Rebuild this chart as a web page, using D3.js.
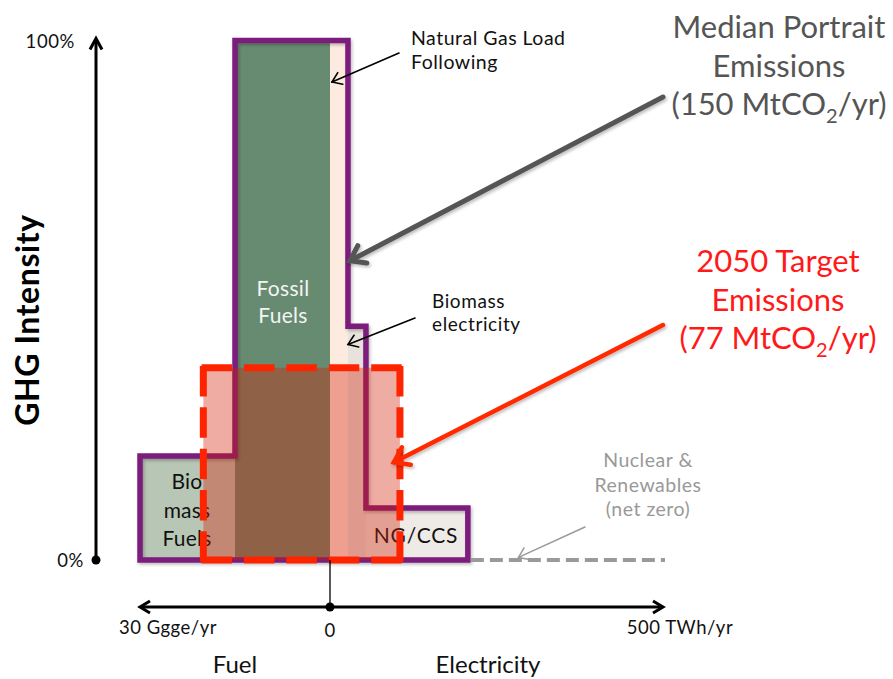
<!DOCTYPE html>
<html>
<head>
<meta charset="utf-8">
<script src="https://cdn.jsdelivr.net/npm/d3@7/dist/d3.min.js"></script>
<style>
  html, body { margin: 0; padding: 0; background: #fff; }
  svg { display: block; font-family: Lato, "Open Sans", sans-serif; }
</style>
</head>
<body>
<svg id="chart" width="893" height="679"></svg>
<script>
// ---------------- data ----------------
const fuelMax = 30;          // Ggge/yr
const elecMax = 500;         // TWh/yr
const fuelNames = ["Biomass Fuels", "Fossil Fuels"];          // listed from axis end toward 0
const fuelAmounts = [15, 15];                                 // Ggge/yr
const fuelIntensity = [20, 100];                              // % GHG intensity
const elecNames = ["Natural Gas Load Following", "Biomass electricity", "NG/CCS"];
const elecAmounts = [27, 27, 153];                            // TWh/yr
const elecIntensity = [100, 45, 10];                          // %
const targetFuel = 20, targetElec = 105, targetIntensity = 37;
const yTicks = [0, 100];
const yTickLabels = ["0%", "100%"];
const xEndLabels = ["30 Ggge/yr", "0", "500 TWh/yr"];

// ---------------- scales ----------------
const svg = d3.select("#chart");
const xFuel = d3.scaleLinear().domain([0, fuelMax]).range([330, 140]);
const xElec = d3.scaleLinear().domain([0, elecMax]).range([330, 663]);
const y = d3.scaleLinear().domain([0, 100]).range([560, 40.5]);
const axisY = 607, yAxisX = 96;

const fuelColors = ["#b8c7b5", "#678b70"];
const elecColors = ["#fdebe0", "#e8e2dd", "#eeebe6"];

// build segments in pixel order (left to right)
const segs = [];
let cum = fuelMax;
fuelAmounts.forEach((a, i) => {
  segs.push({name: fuelNames[i], x0: xFuel(cum), x1: xFuel(cum - a), v: fuelIntensity[i], color: fuelColors[i]});
  cum -= a;
});
cum = 0;
elecAmounts.forEach((a, i) => {
  segs.push({name: elecNames[i], x0: xElec(cum), x1: xElec(cum + a), v: elecIntensity[i], color: elecColors[i]});
  cum += a;
});
const elecEnd = cum;

const defs = svg.append("defs");
const f = defs.append("filter").attr("id", "shadow").attr("x", "-10%").attr("y", "-10%").attr("width", "130%").attr("height", "130%");
f.append("feDropShadow").attr("dx", 1.5).attr("dy", 2).attr("stdDeviation", 1.5).attr("flood-color", "#000").attr("flood-opacity", 0.25);

// ---------------- fills ----------------
svg.append("g").selectAll("rect").data(segs).join("rect")
  .attr("x", d => d.x0).attr("width", d => d.x1 - d.x0)
  .attr("y", d => y(d.v)).attr("height", d => y(0) - y(d.v))
  .attr("fill", d => d.color);

// outline (step path)
const pts = [[segs[0].x0, y(0)]];
segs.forEach(s => { pts.push([s.x0, y(s.v)]); pts.push([s.x1, y(s.v)]); });
pts.push([segs[segs.length - 1].x1, y(0)]);
svg.append("path")
  .attr("d", d3.line()(pts) + "Z")
  .attr("fill", "none").attr("stroke", "#7b1a7c").attr("stroke-width", 5.5)
  .attr("stroke-linejoin", "miter").attr("filter", "url(#shadow)");

// nuclear & renewables dashed zero line
svg.append("line")
  .attr("x1", xElec(elecEnd) + 3).attr("x2", xElec(elecMax) + 2)
  .attr("y1", y(0)).attr("y2", y(0))
  .attr("stroke", "#9a9a9a").attr("stroke-width", 4).attr("stroke-dasharray", "13,6");

// segment labels
function multiText(x, y0, lines, lh, opts) {
  const t = svg.append("text").attr("text-anchor", opts.anchor || "middle")
    .attr("font-size", opts.size).attr("fill", opts.color || "#000");
  if (opts.weight) t.attr("font-weight", opts.weight);
  if (opts.ls) t.attr("letter-spacing", opts.ls);
  lines.forEach((l, i) => t.append("tspan").attr("x", x).attr("y", y0 + i * lh).text(l));
  return t;
}
multiText(283, 296, ["Fossil", "Fuels"], 27, {size: 21, color: "#f4f4f4", ls: 0.3});
multiText(187, 489, ["Bio", "mass", "Fuels"], 28.5, {size: 21, color: "#111", ls: 0.2});
multiText(416, 543, ["NG/CCS"], 0, {size: 21, color: "#111", ls: 0.8});

// ---------------- target rectangle ----------------
const tx0 = xFuel(targetFuel), tx1 = xElec(targetElec), ty0 = y(targetIntensity), ty1 = y(0);
svg.append("rect").attr("x", tx0).attr("y", ty0).attr("width", tx1 - tx0).attr("height", ty1 - ty0)
  .attr("fill", "rgba(212,30,5,0.37)");
// dashed border: each side fitted so that dashes meet at the corners
const corners = [[tx0, ty0], [tx1, ty0], [tx1, ty1], [tx0, ty1]];
const dashLen = 27, gapLen = 19;
corners.forEach((c, i) => {
  const n2 = corners[(i + 1) % 4];
  const L = Math.hypot(n2[0] - c[0], n2[1] - c[1]);
  const n = Math.max(2, Math.round((L + gapLen) / (dashLen + gapLen)));
  const gap = (L - n * dashLen) / (n - 1);
  svg.append("line").attr("x1", c[0]).attr("y1", c[1]).attr("x2", n2[0]).attr("y2", n2[1])
    .attr("stroke", "#ff2400").attr("stroke-width", 7).attr("stroke-linecap", "square")
    .attr("stroke-dasharray", `${dashLen - 3.5},${gap + 3.5}`).attr("stroke-dashoffset", -1.75);
});

// ---------------- arrows ----------------
function arrow(x1, y1, x2, y2, color, width, head, angDeg, shadow) {
  const g = svg.append("g");
  if (shadow) g.attr("filter", "url(#shadow)");
  g.append("line").attr("x1", x1).attr("y1", y1).attr("x2", x2).attr("y2", y2)
    .attr("stroke", color).attr("stroke-width", width).attr("stroke-linecap", "round");
  const ang = Math.atan2(y2 - y1, x2 - x1), a = angDeg * Math.PI / 180;
  const p1 = [x2 - head * Math.cos(ang - a), y2 - head * Math.sin(ang - a)];
  const p2 = [x2 - head * Math.cos(ang + a), y2 - head * Math.sin(ang + a)];
  g.append("path").attr("d", `M${p1[0]},${p1[1]}L${x2},${y2}L${p2[0]},${p2[1]}`)
    .attr("fill", "none").attr("stroke", color).attr("stroke-width", width)
    .attr("stroke-linecap", "round").attr("stroke-linejoin", "miter");
}
arrow(399, 53, xElec(3), y(92), "#000", 1.6, 11, 35);
arrow(415, 318, xElec(27), y(41.5), "#000", 1.6, 11, 35);
arrow(663, 97, xElec(30), y(57.6), "#555", 5, 17, 35, true);
arrow(663, 325, xElec(96), y(18.8), "#ff2a00", 4.5, 17, 35, true);
arrow(585, 527, xElec(283), y(0.5), "#9a9a9a", 1.5, 11, 35);

// ---------------- axes ----------------
// y axis
svg.append("line").attr("x1", yAxisX).attr("x2", yAxisX).attr("y1", y(0)).attr("y2", y(100) - 1)
  .attr("stroke", "#000").attr("stroke-width", 3);
svg.append("path").attr("d", `M${yAxisX - 6},${y(100) + 9}L${yAxisX},${y(100) - 2}L${yAxisX + 6},${y(100) + 9}`)
  .attr("fill", "none").attr("stroke", "#000").attr("stroke-width", 3);
svg.append("circle").attr("cx", yAxisX).attr("cy", y(0)).attr("r", 4.5).attr("fill", "#000");
const yLabelRight = [84, 75];
svg.selectAll(".ytick").data(yTicks).join("text").attr("class", "ytick")
  .attr("x", (d, i) => yLabelRight[i]).attr("y", d => y(d) + 7).attr("text-anchor", "end")
  .attr("font-size", 18.5).attr("letter-spacing", 0.6).attr("fill", "#111").text((d, i) => yTickLabels[i]);
svg.append("text").attr("transform", `translate(39,320) rotate(-90)`).attr("text-anchor", "middle")
  .attr("font-size", 32).attr("font-weight", "bold").attr("letter-spacing", 0.6).attr("fill", "#000").text("GHG Intensity");

// x axis
svg.append("line").attr("x1", xElec(0)).attr("x2", xElec(0)).attr("y1", y(0)).attr("y2", axisY)
  .attr("stroke", "#000").attr("stroke-width", 1.3);
svg.append("line").attr("x1", xFuel(fuelMax) + 1).attr("x2", xElec(elecMax) - 1).attr("y1", axisY).attr("y2", axisY)
  .attr("stroke", "#000").attr("stroke-width", 3);
svg.append("path").attr("d", `M${xFuel(fuelMax) + 10},${axisY - 6}L${xFuel(fuelMax)},${axisY}L${xFuel(fuelMax) + 10},${axisY + 6}`)
  .attr("fill", "none").attr("stroke", "#000").attr("stroke-width", 3);
svg.append("path").attr("d", `M${xElec(elecMax) - 10},${axisY - 6}L${xElec(elecMax)},${axisY}L${xElec(elecMax) - 10},${axisY + 6}`)
  .attr("fill", "none").attr("stroke", "#000").attr("stroke-width", 3);
svg.append("circle").attr("cx", xElec(0)).attr("cy", axisY).attr("r", 4.5).attr("fill", "#000");
const xl = [[xFuel(fuelMax) + 28, 634], [xElec(0), 637], [xElec(elecMax) + 17, 634]];
xEndLabels.forEach((l, i) => svg.append("text").attr("x", xl[i][0]).attr("y", xl[i][1]).attr("text-anchor", "middle")
  .attr("font-size", 18.5).attr("letter-spacing", 0.5).attr("fill", "#111").text(l));
svg.append("text").attr("x", 235).attr("y", 673).attr("text-anchor", "middle")
  .attr("font-size", 24).attr("fill", "#111").text("Fuel");
svg.append("text").attr("x", 488).attr("y", 673).attr("text-anchor", "middle")
  .attr("font-size", 24).attr("fill", "#111").text("Electricity");

// ---------------- annotations ----------------
multiText(411, 45, ["Natural Gas Load", "Following"], 23.5, {size: 19.5, anchor: "start", color: "#111", ls: 0.5});
multiText(432, 308, ["Biomass", "electricity"], 23, {size: 19, anchor: "start", color: "#111", ls: 0.6});
multiText(648, 467, ["Nuclear &", "Renewables", "(net zero)"], 24.5, {size: 19.5, color: "#999", ls: 0.5});

function emissionBlock(x, y0, l1, l2, pre, post, color) {
  multiText(x, y0, [l1, l2], 38.5, {size: 31, color: color});
  const t = svg.append("text").attr("x", x).attr("y", y0 + 77).attr("text-anchor", "middle")
    .attr("font-size", 31).attr("fill", color);
  t.append("tspan").text(pre);
  t.append("tspan").attr("font-size", 20).attr("dy", 8).text("2");
  t.append("tspan").attr("dy", -8).text(post);
}
emissionBlock(779, 38, "Median Portrait", "Emissions", "(150 MtCO", "/yr)", "#555");
emissionBlock(778, 272, "2050 Target", "Emissions", "(77 MtCO", "/yr)", "#ff1a1a");
</script>
</body>
</html>
